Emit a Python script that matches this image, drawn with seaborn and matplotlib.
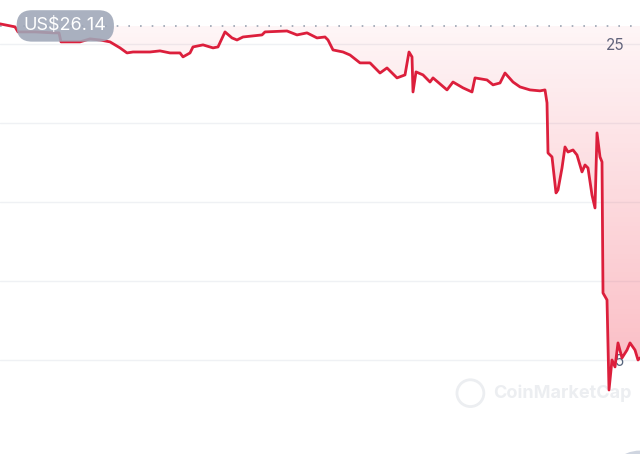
import numpy as np
import pandas as pd
import seaborn as sns
import matplotlib
matplotlib.use("Agg")
from matplotlib import pyplot as plt
from matplotlib.patches import Ellipse
import matplotlib.transforms as mtransforms

## DATA ##
# time index (arbitrary units along the x axis) and price in USD
t = [0, 15, 18, 35, 53, 59, 61, 80, 90, 100, 110, 120, 127, 133, 150, 160, 170,
     180, 183, 190, 193, 203, 213, 218, 225, 232, 237, 243, 262, 265, 287, 297,
     307, 317, 325, 328, 333, 343, 350, 360, 370, 380, 387, 397, 405, 409, 412,
     413, 416, 423, 430, 433, 447, 453, 463, 472, 475, 487, 493, 500, 505, 513,
     520, 530, 540, 545, 547, 548, 552, 556, 558, 562, 565, 568, 573, 577, 582,
     585, 588, 592, 595, 597, 600, 602, 603, 607, 609, 612, 615, 618, 622, 627,
     630, 635, 638, 640]
price = [26.27, 26.08, 25.76, 25.76, 25.70, 25.70, 25.13, 25.13, 25.32, 25.25,
         25.13, 24.75, 24.43, 24.49, 24.49, 24.56, 24.43, 24.43, 24.18, 24.43,
         24.81, 24.94, 24.75, 24.81, 25.76, 25.38, 25.25, 25.44, 25.57, 25.76,
         25.82, 25.57, 25.70, 25.38, 25.44, 25.25, 24.62, 24.49, 24.30, 23.80,
         23.80, 23.16, 23.48, 22.85, 23.04, 24.49, 24.18, 21.96, 23.23, 23.04,
         22.59, 22.85, 22.09, 22.59, 22.22, 21.96, 22.85, 22.72, 22.41, 22.53,
         23.16, 22.59, 22.28, 22.09, 22.03, 22.09, 21.27, 18.10, 17.85, 15.57,
         15.76, 17.15, 18.48, 18.16, 18.29, 17.97, 16.90, 17.34, 17.15, 15.44,
         14.62, 19.37, 17.85, 17.53, 9.24, 8.80, 3.10, 5.00, 4.56, 6.08, 5.13,
         5.63, 6.08, 5.63, 5.00, 5.13]
open_price = 26.14
ytick_vals = [5, 10, 15, 20, 25]
ytick_labels = ["5", "", "", "", "25"]

df = pd.DataFrame({"t": t, "price": price})

red = "#dc1f3c"
sns.set_style("white")
plt.rcParams["font.family"] = ["Inter", "DejaVu Sans"]

fig = plt.figure(figsize=(6.4, 4.54), dpi=100)
ax = fig.add_axes([0, 0, 1, 1])

# gradient fill between line and opening price
poly = ax.fill_between(df["t"], df["price"], open_price, color="none", lw=0)
grad = np.zeros((256, 2, 4))
grad[..., 0] = 0.95
grad[..., 1] = 0.25
grad[..., 2] = 0.33
grad[..., 3] = np.linspace(0.36, 0.05, 256)[:, None]
img = ax.imshow(grad, extent=[0, 640, 3.0, open_price], origin="lower",
                aspect="auto", zorder=1)
path = poly.get_paths()[0]
img.set_clip_path(path, transform=ax.transData)

# grid lines
for v in ytick_vals:
    ax.axhline(v, color="#eff1f4", lw=1, zorder=0)
ax.axhline(open_price, color="#9aa3b2", lw=1.2, linestyle=(0, (1, 6)), zorder=2)

sns.lineplot(data=df, x="t", y="price", ax=ax, color=red, lw=2.0, zorder=3)

ax.set_xlim(0, 640)
ax.set_ylim(-0.95, 27.78)
ax.set_xlabel("")
ax.set_ylabel("")
ax.set_xticks([])
ax.yaxis.tick_right()
ax.set_yticks(ytick_vals)
ax.set_yticklabels(ytick_labels)
ax.tick_params(axis="y", length=0, pad=-11.5, labelsize=11, labelcolor="#58667e")
for lab in ax.get_yticklabels():
    lab.set_horizontalalignment("right")
for s in ax.spines.values():
    s.set_visible(False)

# price badge
trans = mtransforms.blended_transform_factory(ax.transAxes, ax.transData)
ax.text(0.102, open_price, "US$26.14", transform=trans, ha="center", va="center",
        fontsize=13, color="white", zorder=5,
        bbox=dict(boxstyle="round,pad=0.4,rounding_size=0.85", fc="#9ea7b8",
                  ec="none", alpha=0.88))

# watermark
ax.text(0.77, 0.134, "CoinMarketCap", transform=ax.transAxes, ha="left",
        va="center", fontsize=13, fontweight="bold", color="#eceef1", zorder=0)
ax.add_patch(Ellipse((0.735, 0.134), 0.042, 0.059, transform=ax.transAxes,
                     fill=False, ec="#eceef1", lw=2, zorder=0))
ax.add_patch(Ellipse((1.0, -0.07), 0.11, 0.155, transform=ax.transAxes,
                     fc="#cfd5e0", ec="none", zorder=4, clip_on=True))

fig.savefig("out.png", dpi=100)
